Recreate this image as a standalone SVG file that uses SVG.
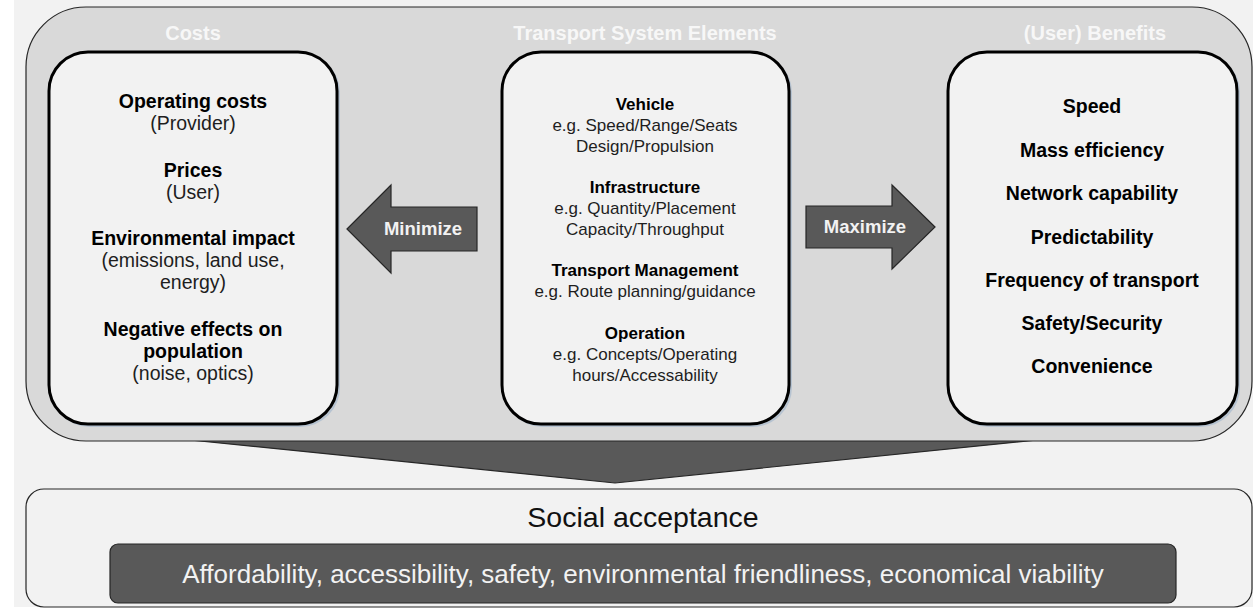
<svg xmlns="http://www.w3.org/2000/svg" width="1253" height="608" viewBox="0 0 1253 608">
  <defs>
    <style>
      text { font-family: "Liberation Sans", Arial, sans-serif; text-anchor: middle; }
      .panel { fill: #f2f2f2; stroke: #000; stroke-width: 3; }
      .glow { fill: none; stroke: #9fb4cc; stroke-width: 2; opacity: 0.6; }
      .title { font-size: 20px; font-weight: bold; fill: #f7f7f7; }
      .b { font-size: 19.5px; font-weight: bold; fill: #000; }
      .r { font-size: 19.5px; fill: #1e1e1e; }
      .cb { font-size: 17px; font-weight: bold; fill: #000; }
      .cr { font-size: 17px; fill: #1e1e1e; }
      .dark { fill: #595959; stroke: #262626; stroke-width: 1.2; }
      .arrowlbl { font-size: 18.5px; font-weight: bold; fill: #f2f2f2; }
    </style>
  </defs>

  <!-- page -->
  <rect x="0" y="0" width="1253" height="608" fill="#ffffff"/>
  <rect x="14" y="0" width="1239" height="607" fill="#f2f2f2"/>

  <!-- funnel into social acceptance -->
  <g id="connectors">
    <polygon class="dark" points="141,435 1086,435 615,483"/>
  </g>

  <!-- outer frame -->
  <g id="frame">
    <rect x="26" y="7" width="1226" height="434" rx="60" fill="#d9d9d9" stroke="#262626" stroke-width="1.2"/>
    <text class="title" x="193" y="40">Costs</text>
    <text class="title" x="645" y="40">Transport System Elements</text>
    <text class="title" x="1095" y="40">(User) Benefits</text>
  </g>

  <!-- costs -->
  <g id="costs">
    <rect class="glow" x="51" y="54" width="288" height="372" rx="39"/>
    <rect class="panel" x="49" y="52" width="288" height="372" rx="39"/>
    <text class="b" x="193" y="108">Operating costs</text>
    <text class="r" x="193" y="130">(Provider)</text>
    <text class="b" x="193" y="177">Prices</text>
    <text class="r" x="193" y="199">(User)</text>
    <text class="b" x="193" y="245">Environmental impact</text>
    <text class="r" x="193" y="267">(emissions, land use,</text>
    <text class="r" x="193" y="289">energy)</text>
    <text class="b" x="193" y="336">Negative effects on</text>
    <text class="b" x="193" y="358">population</text>
    <text class="r" x="193" y="380">(noise, optics)</text>
  </g>

  <!-- transport system elements -->
  <g id="elements">
    <rect class="glow" x="504" y="54" width="287" height="372" rx="39"/>
    <rect class="panel" x="502" y="52" width="287" height="372" rx="39"/>
    <text class="cb" x="645" y="110">Vehicle</text>
    <text class="cr" x="645" y="131">e.g. Speed/Range/Seats</text>
    <text class="cr" x="645" y="152">Design/Propulsion</text>
    <text class="cb" x="645" y="193">Infrastructure</text>
    <text class="cr" x="645" y="214">e.g. Quantity/Placement</text>
    <text class="cr" x="645" y="235">Capacity/Throughput</text>
    <text class="cb" x="645" y="276">Transport Management</text>
    <text class="cr" x="645" y="297">e.g. Route planning/guidance</text>
    <text class="cb" x="645" y="339">Operation</text>
    <text class="cr" x="645" y="360">e.g. Concepts/Operating</text>
    <text class="cr" x="645" y="381">hours/Accessability</text>
  </g>

  <!-- benefits -->
  <g id="benefits">
    <rect class="glow" x="950" y="54" width="289" height="372" rx="39"/>
    <rect class="panel" x="948" y="52" width="289" height="372" rx="39"/>
    <text class="b" x="1092" y="113">Speed</text>
    <text class="b" x="1092" y="157">Mass efficiency</text>
    <text class="b" x="1092" y="200">Network capability</text>
    <text class="b" x="1092" y="244">Predictability</text>
    <text class="b" x="1092" y="287">Frequency of transport</text>
    <text class="b" x="1092" y="330">Safety/Security</text>
    <text class="b" x="1092" y="373">Convenience</text>
  </g>

  <!-- minimize arrow -->
  <g id="minimize">
    <polygon class="dark" points="347,229 391,185 391,207 477,207 477,251 391,251 391,273"/>
    <text class="arrowlbl" x="423" y="235">Minimize</text>
  </g>

  <!-- maximize arrow -->
  <g id="maximize">
    <polygon class="dark" points="935,227 892,185 892,206 806,206 806,248 892,248 892,269"/>
    <text class="arrowlbl" x="865" y="233">Maximize</text>
  </g>

  <!-- social acceptance -->
  <g id="acceptance">
    <rect x="26" y="489" width="1226" height="118" rx="18" fill="#f2f2f2" stroke="#262626" stroke-width="1.2"/>
    <text x="643" y="527" font-size="28.5" fill="#111">Social acceptance</text>
    <rect class="dark" x="110" y="544" width="1066" height="59" rx="8"/>
    <text x="643" y="583" font-size="26" fill="#f2f2f2">Affordability, accessibility, safety, environmental friendliness, economical viability</text>
  </g>
</svg>
